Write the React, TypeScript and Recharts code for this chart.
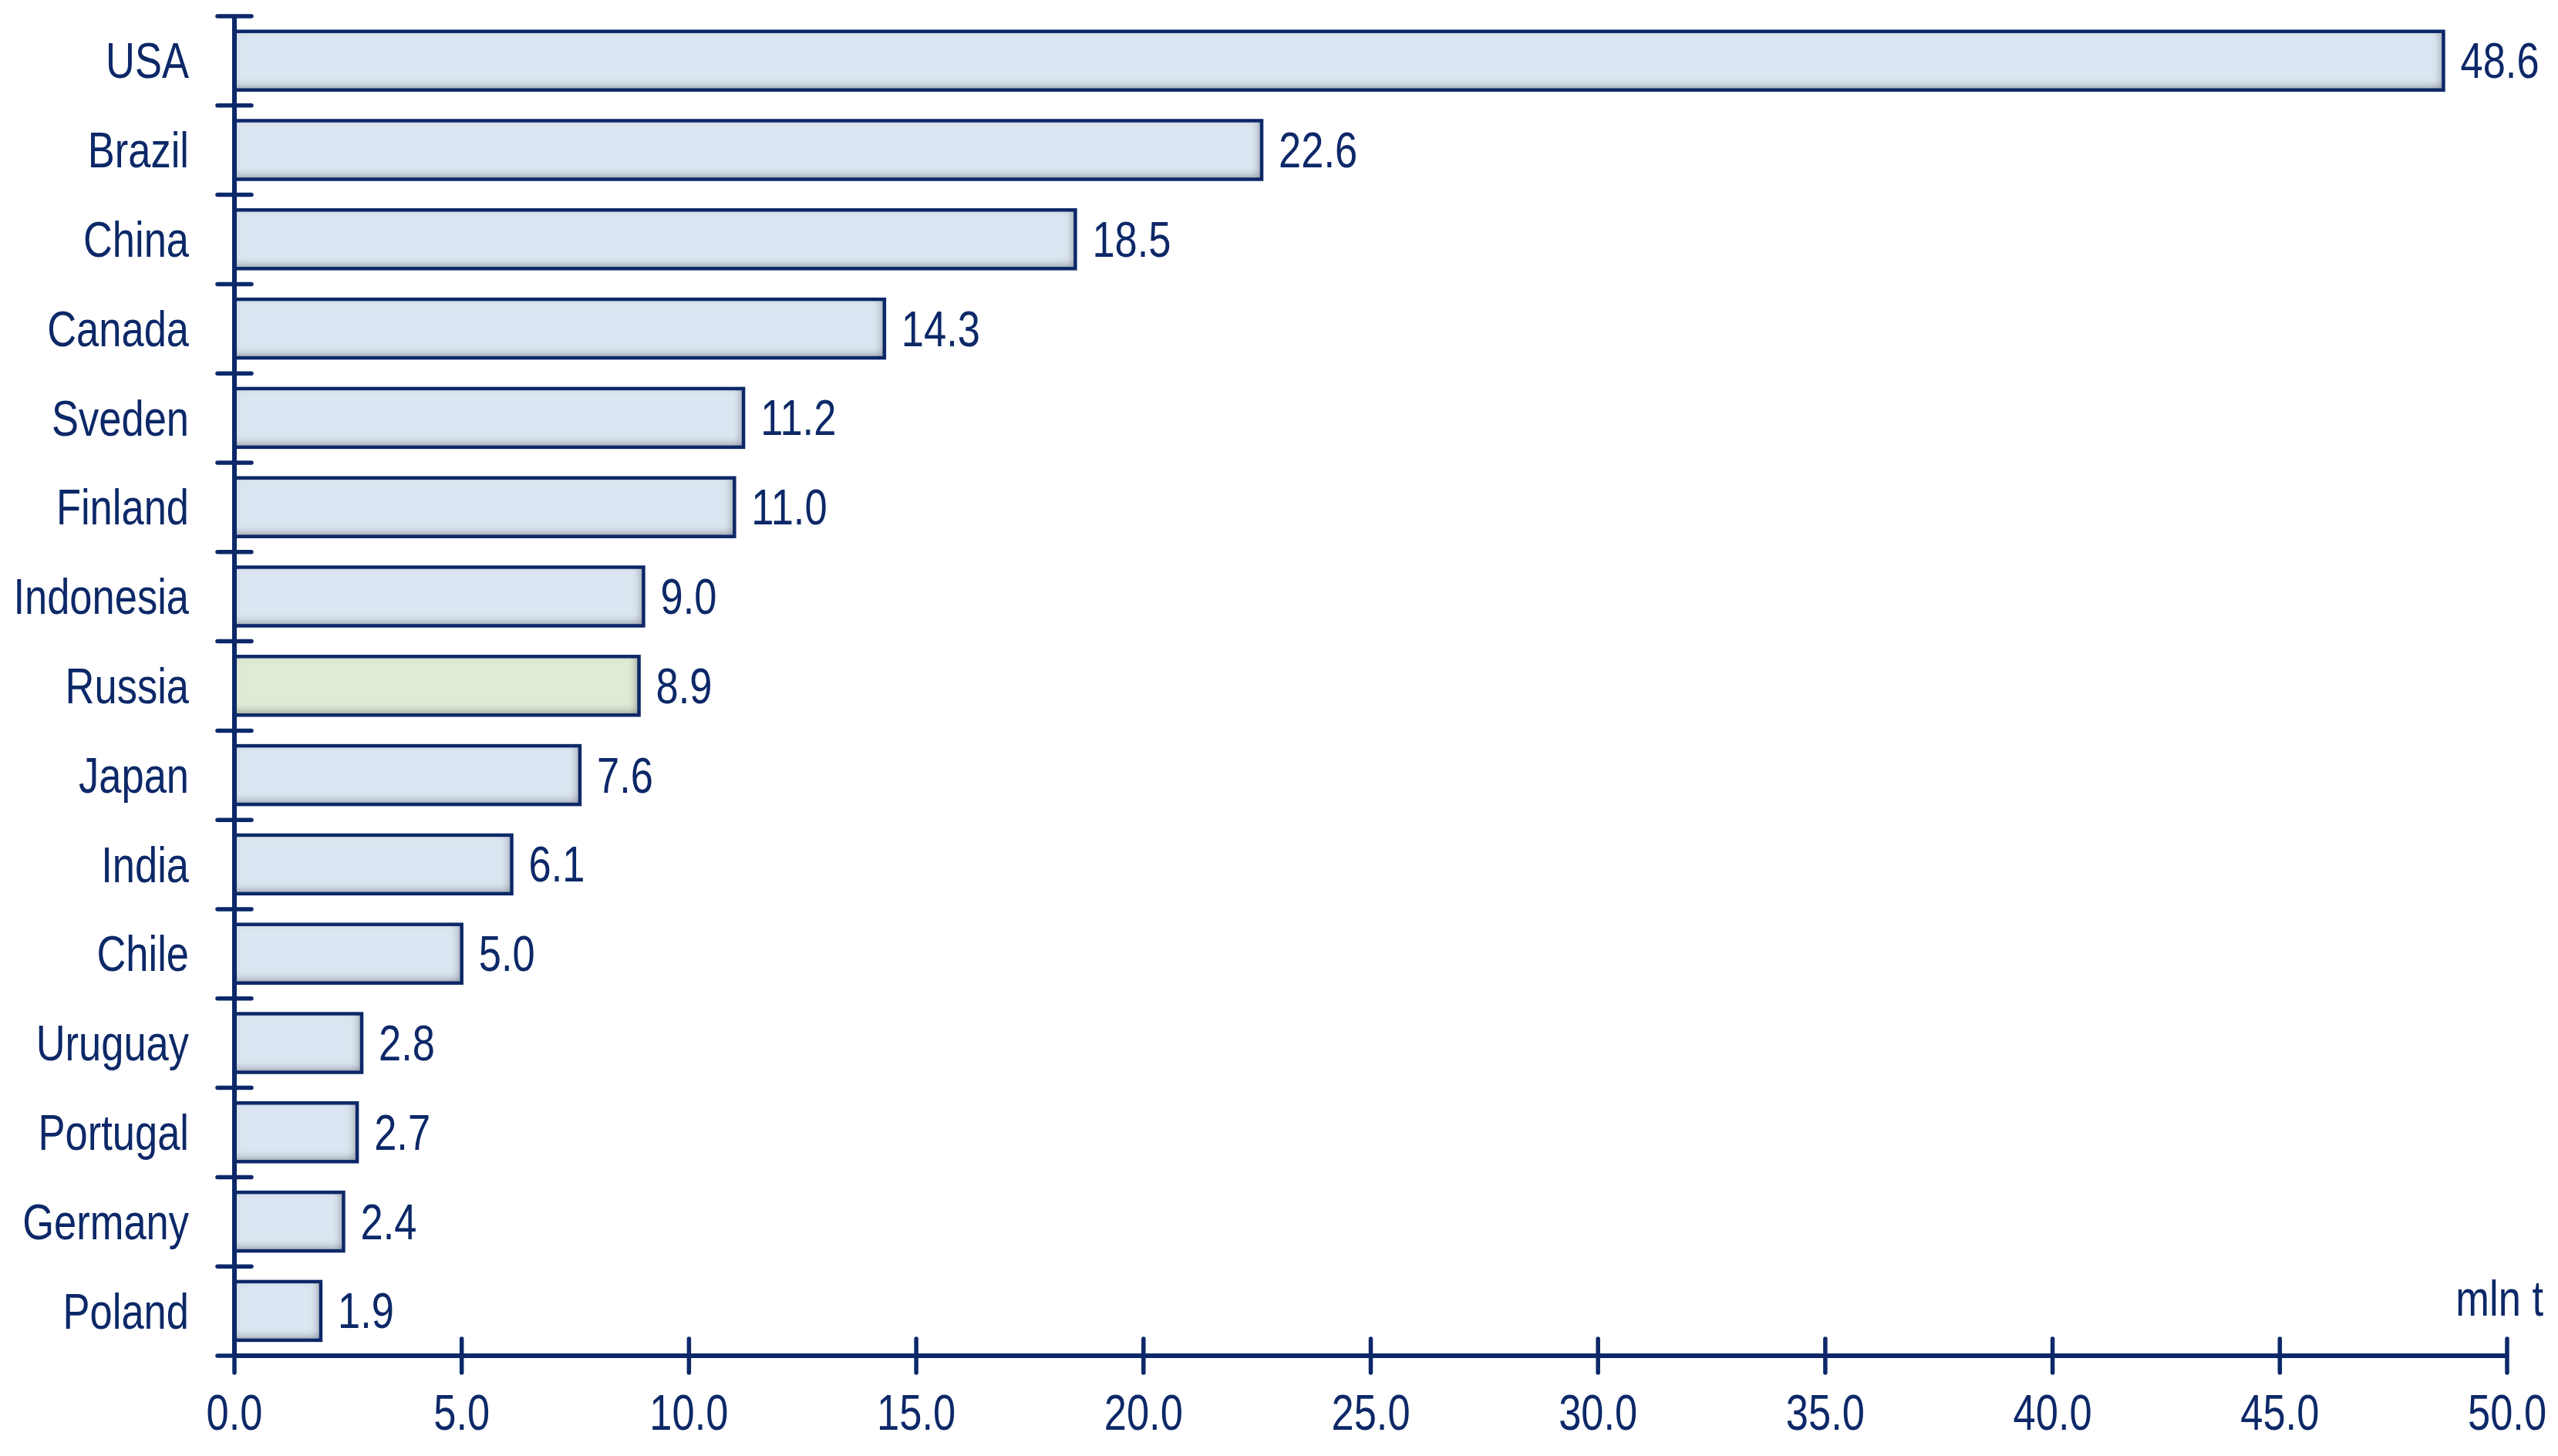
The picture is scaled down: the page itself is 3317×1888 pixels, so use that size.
import { BarChart, Bar, XAxis, YAxis, Cell, LabelList, Label } from 'recharts';

const countries = [
  'USA', 'Brazil', 'China', 'Canada', 'Sveden', 'Finland', 'Indonesia', 'Russia',
  'Japan', 'India', 'Chile', 'Uruguay', 'Portugal', 'Germany', 'Poland',
];
const production = [48.6, 22.6, 18.5, 14.3, 11.2, 11.0, 9.0, 8.9, 7.6, 6.1, 5.0, 2.8, 2.7, 2.4, 1.9];
const highlighted = ['Russia'];
const xTicks = [0, 5, 10, 15, 20, 25, 30, 35, 40, 45, 50];

const NAVY = '#0c2868';
const BAR_FILL = '#dce6f2';
const HIGHLIGHT_FILL = '#e0ebd7';
const FONT = '"Liberation Sans", Arial, sans-serif';

const data = countries.map((country, i) => ({ country, value: production[i] }));

// Arial Narrow look-alike: Liberation Sans squeezed horizontally
function NarrowText({ x, y, anchor, children }: any) {
  return (
    <text
      transform={`translate(${x},${y}) scale(0.82,1)`}
      x={0}
      y={0}
      textAnchor={anchor}
      dominantBaseline="central"
      fill={NAVY}
      fontSize={64}
      fontFamily={FONT}
    >
      {children}
    </text>
  );
}

function CountryTick(props: any) {
  const { x, y, payload, index } = props;
  const half = payload.offset ?? 57.9;
  return (
    <g>
      <line x1={x - 22} x2={x + 22} y1={y - half} y2={y - half} stroke={NAVY} strokeWidth={5.5} strokeLinecap="round" />
      {index === countries.length - 1 && (
        <line x1={x - 22} x2={x} y1={y + half} y2={y + half} stroke={NAVY} strokeWidth={5.5} strokeLinecap="round" />
      )}
      <NarrowText x={x - 59} y={y} anchor="end">{payload.value}</NarrowText>
    </g>
  );
}

function ValueTick(props: any) {
  const { x, y, payload } = props;
  return (
    <g>
      <line x1={x} x2={x} y1={y - 22} y2={y + 22} stroke={NAVY} strokeWidth={5.5} strokeLinecap="round" />
      <NarrowText x={x} y={y + 74} anchor="middle">{Number(payload.value).toFixed(1)}</NarrowText>
    </g>
  );
}

function ValueLabel(props: any) {
  const { x, y, width, height, value } = props;
  return <NarrowText x={x + width + 22} y={y + height / 2} anchor="start">{Number(value).toFixed(1)}</NarrowText>;
}

function ShadedBar(props: any) {
  const { x, y, width, height, fill } = props;
  if (!width || width <= 0) return null;
  return (
    <g>
      <rect x={x} y={y} width={width} height={height} fill={fill} filter="url(#innerShade)" />
      <rect x={x} y={y} width={width} height={height} fill="none" stroke={NAVY} strokeWidth={4.5} />
    </g>
  );
}

export default function App() {
  return (
    <div style={{ margin: -8, width: 3317, height: 1888, background: '#fff' }}>
      <BarChart
        width={3317}
        height={1888}
        data={data}
        layout="vertical"
        margin={{ top: 21, right: 66, left: 0, bottom: 0 }}
        barCategoryGap="17%"
      >
        <defs>
          <filter id="innerShade" x="-5%" y="-20%" width="110%" height="140%">
            <feGaussianBlur in="SourceAlpha" stdDeviation="6" result="blur" />
            <feOffset in="blur" dx="-3" dy="-4" result="shifted" />
            <feComposite in="SourceAlpha" in2="shifted" operator="arithmetic" k2="1" k3="-1" result="edge" />
            <feFlood floodColor="#3c414c" floodOpacity="0.75" />
            <feComposite in2="edge" operator="in" result="shadow" />
            <feMerge>
              <feMergeNode in="SourceGraphic" />
              <feMergeNode in="shadow" />
            </feMerge>
          </filter>
        </defs>
        <XAxis
          type="number"
          domain={[0, 50]}
          ticks={xTicks}
          interval={0}
          height={130}
          tickSize={0}
          tickMargin={0}
          tickLine={false}
          axisLine={{ stroke: NAVY, strokeWidth: 6 }}
          tick={<ValueTick />}
        >
          <Label
            content={(p: any) => {
              const vb = p.viewBox || {};
              return <NarrowText x={vb.x + vb.width + 47} y={vb.y - 74} anchor="end">mln t</NarrowText>;
            }}
          />
        </XAxis>
        <YAxis
          type="category"
          dataKey="country"
          width={304}
          interval={0}
          tickSize={0}
          tickMargin={0}
          tickLine={false}
          axisLine={{ stroke: NAVY, strokeWidth: 6 }}
          tick={<CountryTick />}
        />
        <Bar dataKey="value" isAnimationActive={false} shape={<ShadedBar />}>
          {data.map((d) => (
            <Cell key={d.country} fill={highlighted.includes(d.country) ? HIGHLIGHT_FILL : BAR_FILL} />
          ))}
          <LabelList dataKey="value" content={<ValueLabel />} />
        </Bar>
      </BarChart>
    </div>
  );
}
